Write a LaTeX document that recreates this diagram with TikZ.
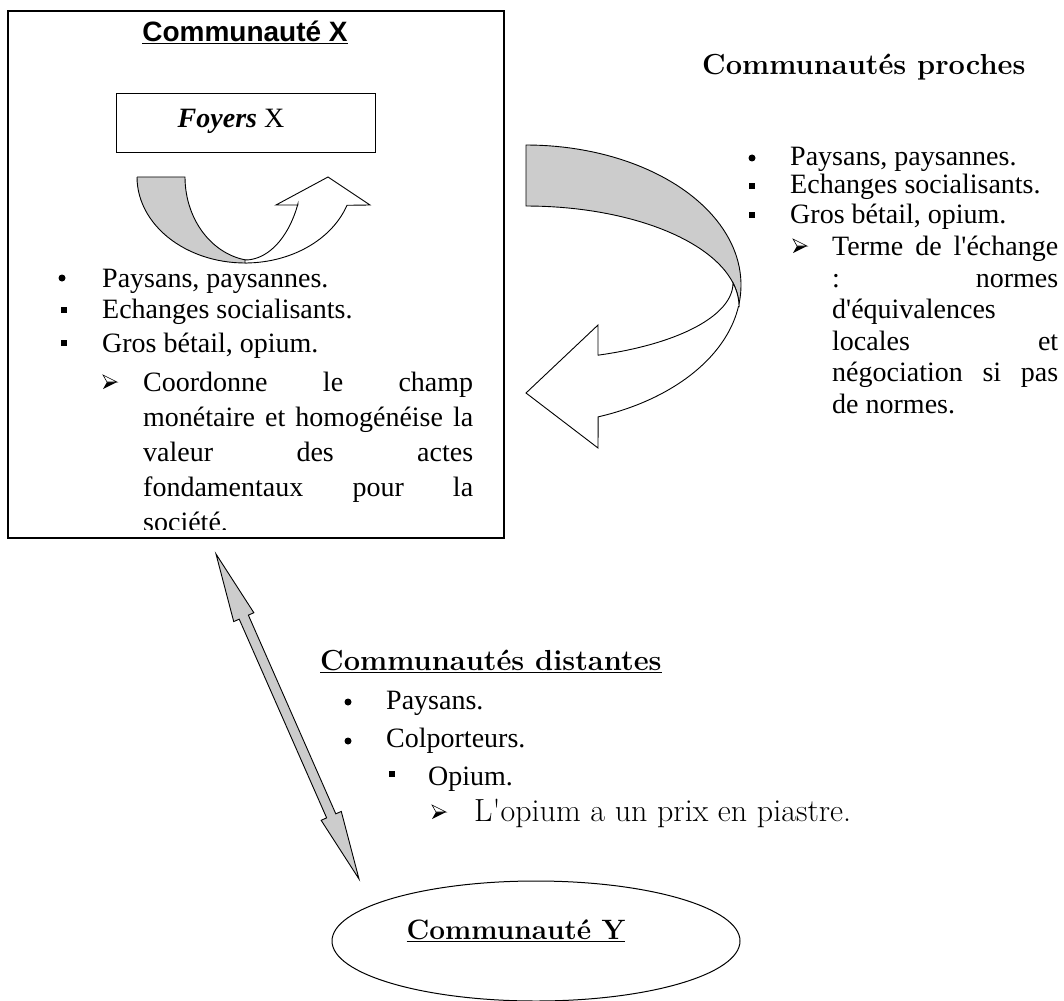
\documentclass[tikz,border=0pt]{standalone}
\usepackage{fontspec}
\newfontfamily\timesfont{Liberation Serif}
\newfontfamily\arialfont{Liberation Sans}
\usetikzlibrary{positioning,calc,shapes.geometric}

\begin{document}
\begin{tikzpicture}[
    x=1pt, y=-1pt,
    box/.style = {draw, line width=1.1pt, inner sep=0pt},
    band/.style = {draw, line width=0.9pt, fill=gray!40},
    front/.style = {draw, line width=0.9pt, fill=white},
    body/.style = {anchor=base west, inner sep=0pt, font=\timesfont\fontsize{28}{32}\selectfont},
    head/.style = {anchor=base west, inner sep=0pt, font=\bfseries\fontsize{29}{32}\selectfont},
    dotbul/.style = {circle, fill, inner sep=0pt, minimum size=7pt},
    sqbul/.style = {rectangle, fill, inner sep=0pt, minimum size=6pt},
    arrbul/.pic = {
        \fill (-7,7) -- (7,0) -- (-3,0) -- cycle;
        \draw[line width=0.6pt, fill=white] (-7,-7) -- (7,0) -- (-3,0) -- cycle;
    }
]
\useasboundingbox (0,0) rectangle (1064,1000);

% Communaute X
\node[box, minimum width=496pt, minimum height=527pt] (boxX) at (256,274.5) {};
\node[anchor=base, inner sep=0pt, font=\arialfont\bfseries\fontsize{28}{32}\selectfont] (titX) at (245,42) {\underline{Communauté X}};
\node[box, line width=0.9pt, minimum width=259pt, minimum height=59pt] (foyX) at (245.5,122.5) {};
\node[anchor=base, inner sep=0pt, font=\timesfont\fontsize{28}{32}\selectfont] (foyT) at (231,128) {\textbf{\textit{Foyers}} X};

% small turning arrow
\draw[band] (137,177) -- (185,177)
    -- plot[domain=180:98, samples=30] ({257+72*cos(\x)},{177+84*sin(\x)})
    -- plot[domain=89:180, samples=30] ({245+108*cos(\x)},{177+86*sin(\x)}) -- cycle;
\draw[front] plot[domain=90:19.2, samples=30] ({245+108*cos(\x)},{177+86*sin(\x)})
    -- (370,205) -- (328,177) -- (276,205) -- (298,205)
    -- plot[domain=24:90, samples=30] ({245+58*cos(\x)},{165+95*sin(\x)}) -- cycle;

% list X
\node[dotbul] (lb1) at (62,278) {};
\node[body] (lt1) at (102,287) {Paysans, paysannes.};
\node[sqbul] (lb2) at (64,310) {};
\node[body] (lt2) at (102,318) {Echanges socialisants.};
\node[sqbul] (lb3) at (64,343) {};
\node[body] (lt3) at (102,352) {Gros bétail, opium.};
\pic (lb4) at (110,382) {arrbul};
\node[body] (lp1) at (143,391) {\makebox[330pt][s]{Coordonne le champ}};
\node[body] (lp2) at (143,426) {\makebox[330pt][s]{monétaire et homogénéise la}};
\node[body] (lp3) at (143,461) {\makebox[330pt][s]{valeur des actes}};
\node[body] (lp4) at (143,496) {\makebox[330pt][s]{fondamentaux pour la}};
\begin{scope}
\clip (8,11) rectangle (504,529);
\node[body] (lp5) at (143,531) {société.};
\end{scope}

% Communautes proches
\node[head] (titP) at (702,75) {Communautés proches};
\node[dotbul] (rb1) at (752,158) {};
\node[body] (rt1) at (790,166) {Paysans, paysannes.};
\node[sqbul] (rb2) at (752,186) {};
\node[body] (rt2) at (790,194) {Echanges socialisants.};
\node[sqbul] (rb3) at (752,215) {};
\node[body] (rt3) at (790,223) {Gros bétail, opium.};
\pic (rb4) at (800,246) {arrbul};
\node[body] (rp1) at (832,255) {\makebox[226pt][s]{Terme de l\textquotesingle échange}};
\node[body] (rp2) at (832,287) {\makebox[226pt][s]{: normes}};
\node[body] (rp3) at (832,318) {d\textquotesingle équivalences};
\node[body] (rp4) at (832,350) {\makebox[226pt][s]{locales et}};
\node[body] (rp5) at (832,381) {\makebox[226pt][s]{négociation si pas}};
\node[body] (rp6) at (832,413) {de normes.};

% big turning arrow
\draw[band] plot[domain=90:-8.9, samples=50] ({526+215*cos(\x)},{285-140*sin(\x)})
    -- plot[domain=0:90, samples=40] ({526+213*cos(\x)},{306.6-100.6*sin(\x)}) -- cycle;
\draw[front] plot[domain=-8.9:-70.4, samples=40] ({526+215*cos(\x)},{285-140*sin(\x)})
    -- (598,448) -- (526,393) -- (598,325) -- (598,355)
    -- plot[domain=-69.6:0, samples=40] ({526+207*cos(\x)},{283-77*sin(\x)})
    -- plot[domain=13.6:0, samples=10] ({526+213*cos(\x)},{306.6-100.6*sin(\x)}) -- cycle;

% Communautes distantes
\node[head] (titD) at (320,670) {\underline{Communautés distantes}};
\node[dotbul] (db1) at (348,702) {};
\node[body] (dt1) at (386,709) {Paysans.};
\node[dotbul] (db2) at (348,741) {};
\node[body] (dt2) at (386,747) {Colporteurs.};
\node[sqbul] (db3) at (392,774) {};
\node[body] (dt3) at (428,785) {Opium.};
\pic (db4) at (439,812) {arrbul};
\node[anchor=base west, inner sep=0pt, font=\fontsize{32}{36}\selectfont] (dt4) at (474,821) {L\textquotesingle opium a un prix en piastre.};

% Communaute Y
\node[draw, ellipse, line width=1pt, minimum width=408pt, minimum height=120pt, inner sep=0pt] (ellY) at (536,941) {};
\node[anchor=base, inner sep=0pt, font=\bfseries\fontsize{28}{32}\selectfont] (titY) at (516,939) {\underline{Communauté Y}};

% double arrow X <-> Y
\coordinate (dA) at (216,554);
\coordinate (dB) at (359,879);
\coordinate (hA) at ($(dA)!69pt!(dB)$);
\coordinate (hB) at ($(dB)!69pt!(dA)$);
\draw[band] (dA) -- ($(hA)!11pt!90:(dB)$) -- ($(hA)!5pt!90:(dB)$)
    -- ($(hB)!5pt!-90:(dA)$) -- ($(hB)!11pt!-90:(dA)$) -- (dB)
    -- ($(hB)!11pt!90:(dA)$) -- ($(hB)!5pt!90:(dA)$)
    -- ($(hA)!5pt!-90:(dB)$) -- ($(hA)!11pt!-90:(dB)$) -- cycle;

\end{tikzpicture}
\end{document}
